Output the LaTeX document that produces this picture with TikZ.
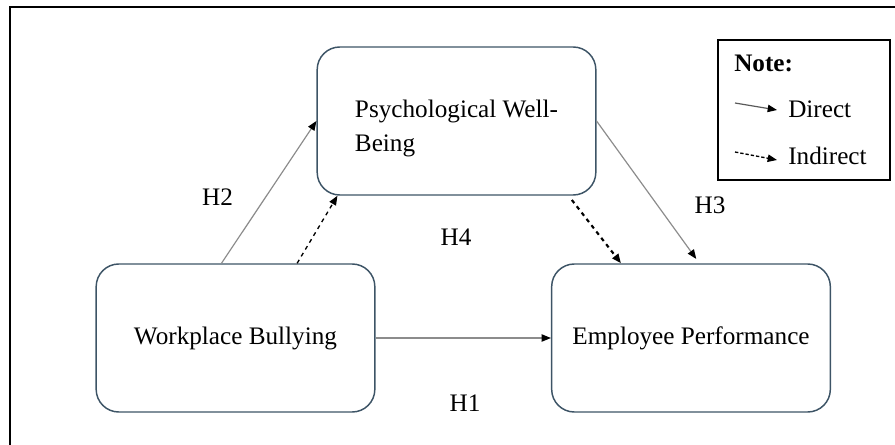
\documentclass[tikz,border=0pt]{standalone}
\usepackage{fontspec}
\setmainfont{Liberation Serif}
\usetikzlibrary{arrows.meta,calc}
\definecolor{boxline}{HTML}{3D5466}
\definecolor{directline}{HTML}{8C8C8C}

\begin{document}
\begin{tikzpicture}[x=0.75pt, y=-0.75pt,
  >={Triangle[length=7pt,width=5.5pt,color=black]},
  font=\fontsize{18.9}{25.5}\selectfont,
  varbox/.style={draw=boxline, line width=1.1pt, rounded corners=17pt,
    minimum width=209pt, minimum height=111pt, inner sep=0pt},
  direct/.style={->, draw=directline, line width=0.9pt},
  indirect/.style={->, dashed, line width=1pt},
  hyp/.style={inner sep=0pt}]
\useasboundingbox (0,0) rectangle (895,445);
% frame
\draw[line width=1pt] (10,445) |- (895,7);

% variable nodes
\node[varbox, align=left, text height=50pt] (pwb) at (456.5,121) {Psychological Well-\\Being};
\node[varbox] (wb) at (235.5,338) {Workplace Bullying};
\node[varbox] (ep) at (691,338) {Employee Performance};

% hypothesis labels
\node[hyp] (H1) at (465,403) {H1};
\node[hyp] (H2) at (217.5,197) {H2};
\node[hyp] (H3) at (710,205) {H3};
\node[hyp] (H4) at (456,237) {H4};

% direct paths
\draw[direct] (wb) -- (ep);
\draw[direct] ($(wb.north west)!0.45!(wb.north east)$) -- (pwb.west);
\draw[direct, shorten >=4pt] (pwb.east) -- ($(ep.north west)!0.53!(ep.north east)$);

% indirect paths
\draw[indirect] ($(wb.north west)!0.72!(wb.north east)$) -- ($(pwb.south west)!0.075!(pwb.south east)$);
\draw[indirect, line width=1.6pt, shorten <=4pt] ($(pwb.south west)!0.9!(pwb.south east)$) -- ($(ep.north west)!0.25!(ep.north east)$);

% legend
\node[draw, line width=1.1pt, minimum width=129pt, minimum height=105pt, inner sep=0pt] (legend) at (804,110) {};
\node[anchor=base west, inner sep=0pt] (note) at (734,72) {\bfseries Note:};
\node[anchor=base west, inner sep=0pt] (dlbl) at (788,118) {Direct};
\node[anchor=base west, inner sep=0pt] (ilbl) at (788,165) {Indirect};
\coordinate (d0) at (735,103);
\coordinate (d1) at (777,110);
\coordinate (i0) at (735,152);
\coordinate (i1) at (777,160);
\draw[direct, draw=black!65] (d0) -- (d1);
\draw[indirect, dash pattern=on 2.5pt off 1.5pt] (i0) -- (i1);
\end{tikzpicture}
\end{document}
